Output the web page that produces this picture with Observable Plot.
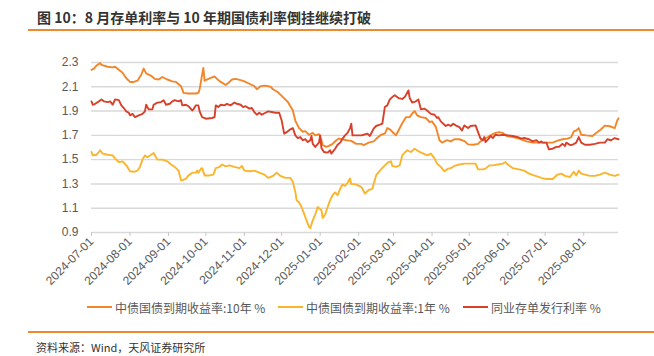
<!DOCTYPE html>
<html><head><meta charset="utf-8">
<script src="https://cdn.jsdelivr.net/npm/d3@7"></script>
<script src="https://cdn.jsdelivr.net/npm/@observablehq/plot@0.6"></script>
<style>
body{margin:0;background:#fff;width:654px;height:356px;position:relative;overflow:hidden;font-family:"Liberation Sans","Noto Sans CJK SC",sans-serif;}
#chart{position:absolute;left:0;top:0;}
#title{position:absolute;left:37px;top:8px;font-size:14px;font-weight:bold;color:#333;font-family:"Noto Sans CJK SC",sans-serif;line-height:18px;white-space:nowrap;}
.rule{position:absolute;left:28px;width:626px;height:2px;background:#f08a32;}
#legend{position:absolute;top:298px;left:0;width:654px;height:18px;font-size:12px;color:#595959;font-family:"Noto Sans CJK SC",sans-serif;}
.item{position:absolute;top:0;display:flex;align-items:center;height:18px;white-space:nowrap;}
.sw{width:25px;height:2.5px;margin-right:3px;}
#source{position:absolute;left:36px;top:339px;font-size:11px;color:#333;font-family:"Noto Sans CJK SC",sans-serif;white-space:nowrap;line-height:16px;}
</style></head><body>
<div id="chart"></div>
<div id="title">图 10：8 月存单利率与 10 年期国债利率倒挂继续打破</div>
<div class="rule" style="top:29px"></div>
<div id="legend"></div>
<div class="rule" style="top:331px"></div>
<div id="source">资料来源：Wind，天风证券研究所</div>
<script>
const seriesNames = ["中债国债到期收益率:10年 %", "中债国债到期收益率:1年 %", "同业存单发行利率 %"];
const seriesColors = ["#f4862a", "#fbb52c", "#d9402a"];
const yTicks = [0.9, 1.1, 1.3, 1.5, 1.7, 1.9, 2.1, 2.3];
const xTickLabels = ["2024-07-01","2024-08-01","2024-09-01","2024-10-01","2024-11-01","2024-12-01","2025-01-01","2025-02-01","2025-03-01","2025-04-01","2025-05-01","2025-06-01","2025-07-01","2025-08-01"];

const t10 = ["2024-07-01","2024-07-03","2024-07-05","2024-07-08","2024-07-09","2024-07-14","2024-07-18","2024-07-20","2024-07-23","2024-07-26","2024-07-29","2024-08-01","2024-08-04","2024-08-07","2024-08-10","2024-08-12","2024-08-14","2024-08-18","2024-08-21","2024-08-24","2024-08-27","2024-08-31","2024-09-04","2024-09-07","2024-09-11","2024-09-12","2024-09-13","2024-09-17","2024-09-23","2024-09-25","2024-09-26","2024-09-27","2024-09-29","2024-09-30","2024-10-04","2024-10-08","2024-10-10","2024-10-13","2024-10-17","2024-10-20","2024-10-22","2024-10-25","2024-10-29","2024-11-01","2024-11-05","2024-11-09","2024-11-11","2024-11-14","2024-11-18","2024-11-22","2024-11-24","2024-11-28","2024-12-02","2024-12-06","2024-12-08","2024-12-10","2024-12-12","2024-12-15","2024-12-18","2024-12-20","2024-12-23","2024-12-26","2024-12-28","2024-12-31","2025-01-02","2025-01-03","2025-01-06","2025-01-08","2025-01-11","2025-01-14","2025-01-16","2025-01-19","2025-01-22","2025-01-26","2025-01-30","2025-02-03","2025-02-05","2025-02-09","2025-02-13","2025-02-16","2025-02-19","2025-02-22","2025-02-24","2025-02-26","2025-02-28","2025-03-03","2025-03-05","2025-03-08","2025-03-11","2025-03-14","2025-03-16","2025-03-18","2025-03-20","2025-03-23","2025-03-27","2025-03-30","2025-04-01","2025-04-04","2025-04-07","2025-04-09","2025-04-13","2025-04-16","2025-04-19","2025-04-23","2025-04-27","2025-04-30","2025-05-04","2025-05-08","2025-05-10","2025-05-13","2025-05-16","2025-05-18","2025-05-22","2025-05-25","2025-05-28","2025-05-31","2025-06-05","2025-06-10","2025-06-16","2025-06-21","2025-06-28","2025-07-02","2025-07-07","2025-07-11","2025-07-15","2025-07-19","2025-07-22","2025-07-24","2025-07-26","2025-07-28","2025-07-30","2025-08-03","2025-08-08","2025-08-11","2025-08-15","2025-08-18","2025-08-22","2025-08-26","2025-08-28","2025-08-29"];
const v10 = [2.24,2.25,2.275,2.295,2.28,2.265,2.26,2.265,2.24,2.215,2.17,2.14,2.14,2.15,2.20,2.25,2.21,2.19,2.165,2.16,2.18,2.16,2.145,2.14,2.105,2.08,2.05,2.045,2.045,2.05,2.08,2.14,2.255,2.15,2.17,2.185,2.165,2.14,2.115,2.14,2.16,2.165,2.155,2.145,2.125,2.105,2.08,2.105,2.11,2.10,2.08,2.055,2.015,1.975,1.94,1.905,1.82,1.76,1.73,1.735,1.705,1.72,1.70,1.71,1.66,1.62,1.605,1.613,1.63,1.66,1.673,1.668,1.66,1.655,1.63,1.63,1.62,1.64,1.65,1.68,1.705,1.714,1.76,1.75,1.73,1.70,1.74,1.80,1.85,1.85,1.88,1.90,1.865,1.85,1.843,1.81,1.815,1.77,1.66,1.64,1.66,1.65,1.668,1.668,1.653,1.626,1.623,1.63,1.65,1.673,1.686,1.70,1.72,1.727,1.72,1.695,1.686,1.673,1.65,1.64,1.64,1.64,1.64,1.656,1.668,1.673,1.686,1.733,1.74,1.76,1.705,1.70,1.695,1.72,1.75,1.78,1.775,1.76,1.823,1.84];

const t1 = ["2024-07-01","2024-07-02","2024-07-05","2024-07-08","2024-07-10","2024-07-14","2024-07-18","2024-07-20","2024-07-23","2024-07-26","2024-07-29","2024-08-01","2024-08-04","2024-08-07","2024-08-09","2024-08-11","2024-08-13","2024-08-15","2024-08-18","2024-08-20","2024-08-23","2024-08-27","2024-08-31","2024-09-03","2024-09-06","2024-09-09","2024-09-11","2024-09-12","2024-09-15","2024-09-17","2024-09-20","2024-09-23","2024-09-24","2024-09-25","2024-09-27","2024-09-28","2024-09-30","2024-10-04","2024-10-07","2024-10-09","2024-10-12","2024-10-14","2024-10-17","2024-10-20","2024-10-24","2024-10-28","2024-10-30","2024-11-01","2024-11-05","2024-11-09","2024-11-13","2024-11-17","2024-11-20","2024-11-22","2024-11-24","2024-11-27","2024-11-30","2024-12-04","2024-12-08","2024-12-10","2024-12-12","2024-12-13","2024-12-15","2024-12-17","2024-12-19","2024-12-21","2024-12-23","2024-12-24","2024-12-26","2024-12-28","2024-12-30","2025-01-02","2025-01-03","2025-01-05","2025-01-07","2025-01-09","2025-01-11","2025-01-13","2025-01-15","2025-01-17","2025-01-19","2025-01-21","2025-01-23","2025-01-25","2025-01-26","2025-01-30","2025-02-03","2025-02-04","2025-02-06","2025-02-09","2025-02-12","2025-02-13","2025-02-15","2025-02-18","2025-02-22","2025-02-25","2025-02-27","2025-02-28","2025-03-03","2025-03-06","2025-03-08","2025-03-10","2025-03-12","2025-03-15","2025-03-18","2025-03-22","2025-03-25","2025-03-28","2025-03-31","2025-04-03","2025-04-05","2025-04-08","2025-04-11","2025-04-14","2025-04-16","2025-04-19","2025-04-23","2025-04-27","2025-05-01","2025-05-06","2025-05-08","2025-05-12","2025-05-14","2025-05-17","2025-05-20","2025-05-24","2025-05-28","2025-05-30","2025-06-01","2025-06-05","2025-06-10","2025-06-14","2025-06-18","2025-06-22","2025-06-28","2025-07-02","2025-07-07","2025-07-11","2025-07-14","2025-07-17","2025-07-21","2025-07-24","2025-07-26","2025-07-28","2025-07-30","2025-08-02","2025-08-06","2025-08-10","2025-08-14","2025-08-18","2025-08-22","2025-08-26","2025-08-29"];
const v1 = [1.563,1.535,1.54,1.577,1.55,1.54,1.535,1.508,1.48,1.486,1.453,1.404,1.40,1.41,1.44,1.50,1.535,1.52,1.54,1.555,1.50,1.50,1.486,1.46,1.44,1.41,1.33,1.33,1.343,1.37,1.393,1.393,1.41,1.393,1.426,1.43,1.37,1.37,1.377,1.43,1.44,1.46,1.445,1.453,1.44,1.43,1.448,1.41,1.404,1.41,1.393,1.377,1.35,1.357,1.366,1.393,1.366,1.35,1.35,1.316,1.234,1.166,1.147,1.11,1.056,1.00,0.947,0.935,1.00,1.048,1.11,1.084,1.02,1.048,1.11,1.166,1.207,1.23,1.207,1.26,1.295,1.284,1.31,1.344,1.30,1.295,1.275,1.26,1.22,1.25,1.26,1.30,1.37,1.41,1.453,1.48,1.486,1.448,1.44,1.453,1.535,1.558,1.577,1.563,1.59,1.563,1.55,1.535,1.55,1.51,1.467,1.44,1.404,1.426,1.43,1.448,1.46,1.467,1.467,1.467,1.42,1.42,1.426,1.453,1.453,1.46,1.467,1.48,1.46,1.43,1.42,1.41,1.385,1.37,1.35,1.34,1.34,1.377,1.385,1.366,1.357,1.40,1.37,1.41,1.385,1.377,1.366,1.366,1.377,1.393,1.377,1.366,1.377];

const tcd = ["2024-07-01","2024-07-02","2024-07-04","2024-07-07","2024-07-09","2024-07-11","2024-07-14","2024-07-16","2024-07-18","2024-07-20","2024-07-23","2024-07-25","2024-07-27","2024-07-29","2024-07-31","2024-08-01","2024-08-03","2024-08-05","2024-08-08","2024-08-11","2024-08-13","2024-08-14","2024-08-16","2024-08-19","2024-08-20","2024-08-23","2024-08-26","2024-08-28","2024-08-30","2024-09-02","2024-09-04","2024-09-06","2024-09-09","2024-09-11","2024-09-12","2024-09-15","2024-09-17","2024-09-20","2024-09-21","2024-09-23","2024-09-25","2024-09-26","2024-09-28","2024-10-01","2024-10-06","2024-10-08","2024-10-09","2024-10-11","2024-10-13","2024-10-16","2024-10-18","2024-10-21","2024-10-24","2024-10-26","2024-10-29","2024-10-31","2024-11-02","2024-11-05","2024-11-07","2024-11-09","2024-11-11","2024-11-13","2024-11-15","2024-11-18","2024-11-20","2024-11-23","2024-11-26","2024-11-29","2024-12-01","2024-12-03","2024-12-06","2024-12-08","2024-12-10","2024-12-12","2024-12-14","2024-12-16","2024-12-18","2024-12-20","2024-12-22","2024-12-24","2024-12-25","2024-12-26","2024-12-28","2024-12-31","2025-01-01","2025-01-02","2025-01-04","2025-01-07","2025-01-09","2025-01-10","2025-01-13","2025-01-15","2025-01-17","2025-01-19","2025-01-21","2025-01-23","2025-01-25","2025-01-26","2025-01-27","2025-01-30","2025-02-03","2025-02-05","2025-02-08","2025-02-10","2025-02-13","2025-02-15","2025-02-18","2025-02-20","2025-02-22","2025-02-24","2025-02-26","2025-02-28","2025-03-02","2025-03-05","2025-03-08","2025-03-10","2025-03-13","2025-03-14","2025-03-16","2025-03-19","2025-03-21","2025-03-23","2025-03-26","2025-03-28","2025-03-31","2025-04-03","2025-04-05","2025-04-06","2025-04-08","2025-04-12","2025-04-14","2025-04-16","2025-04-18","2025-04-20","2025-04-23","2025-04-25","2025-04-27","2025-04-30","2025-05-02","2025-05-06","2025-05-08","2025-05-10","2025-05-12","2025-05-13","2025-05-14","2025-05-17","2025-05-18","2025-05-20","2025-05-22","2025-05-25","2025-05-28","2025-06-01","2025-06-05","2025-06-09","2025-06-12","2025-06-14","2025-06-18","2025-06-21","2025-06-24","2025-06-26","2025-06-28","2025-06-29","2025-07-02","2025-07-04","2025-07-07","2025-07-10","2025-07-12","2025-07-15","2025-07-17","2025-07-18","2025-07-21","2025-07-23","2025-07-26","2025-07-28","2025-07-30","2025-08-02","2025-08-06","2025-08-10","2025-08-14","2025-08-18","2025-08-20","2025-08-23","2025-08-26","2025-08-29"];
const vcd = [1.98,1.952,1.96,1.98,1.996,1.98,1.974,1.98,1.952,1.996,1.99,1.947,1.925,1.897,1.886,1.865,1.877,1.85,1.865,1.877,1.897,1.952,1.914,1.914,1.952,1.97,1.974,1.99,1.952,1.96,1.98,1.99,1.98,1.99,1.947,1.952,1.94,1.905,1.914,1.947,1.947,1.897,1.85,1.837,1.843,1.85,1.947,1.933,1.952,1.947,1.96,1.947,1.97,1.96,1.952,1.933,1.94,1.92,1.925,1.892,1.87,1.886,1.87,1.886,1.897,1.892,1.886,1.886,1.823,1.714,1.733,1.75,1.76,1.70,1.678,1.686,1.66,1.668,1.645,1.66,1.695,1.63,1.605,1.64,1.70,1.596,1.563,1.558,1.577,1.55,1.59,1.623,1.64,1.673,1.70,1.72,1.76,1.796,1.70,1.70,1.70,1.705,1.714,1.695,1.755,1.777,1.788,1.796,1.933,1.947,1.996,2.015,2.03,2.007,2.00,2.015,2.07,2.007,1.97,1.98,1.996,1.914,1.92,1.905,1.877,1.87,1.843,1.85,1.815,1.777,1.788,1.777,1.796,1.782,1.768,1.74,1.782,1.76,1.777,1.782,1.727,1.673,1.66,1.686,1.645,1.678,1.695,1.678,1.705,1.70,1.705,1.70,1.695,1.686,1.673,1.678,1.668,1.65,1.66,1.64,1.65,1.64,1.64,1.585,1.59,1.605,1.605,1.63,1.613,1.64,1.62,1.623,1.64,1.686,1.64,1.623,1.623,1.63,1.64,1.64,1.668,1.66,1.678,1.668];

const parse = d3.utcParse("%Y-%m-%d");
const rows = [];
[[t10, v10], [t1, v1], [tcd, vcd]].forEach(([ts, vs], i) => {
  ts.forEach((t, j) => rows.push({date: parse(t), value: vs[j], series: seriesNames[i]}));
});

const chart = Plot.plot({
  width: 654,
  height: 300,
  marginLeft: 91,
  marginRight: 36,
  marginTop: 62,
  marginBottom: 68,
  style: {fontFamily: "'Liberation Sans', Arial, sans-serif", fontSize: "12px", color: "#595959", background: "transparent"},
  x: {type: "utc", domain: [parse("2024-07-01"), parse("2025-08-29")]},
  y: {domain: [0.9, 2.3]},
  color: {domain: seriesNames, range: seriesColors},
  marks: [
    Plot.ruleY(yTicks, {stroke: "#d9d9d9", strokeWidth: 1.4}),
    Plot.axisY({ticks: yTicks, tickSize: 0, tickPadding: 13, tickFormat: d => d.toFixed(1), label: null, fontSize: 12}),
    Plot.axisX({ticks: xTickLabels.map(parse), tickSize: 4, tickPadding: 3, tickRotate: -45, tickFormat: d3.utcFormat("%Y-%m-%d"), label: null, stroke: "#c8c8c8", fontSize: 12}),
    Plot.lineY(rows, {x: "date", y: "value", z: "series", stroke: "series", strokeWidth: 1.9, curve: "linear"})
  ]
});
document.getElementById("chart").appendChild(chart);

const legend = document.getElementById("legend");
const lefts = [87, 278, 463];
seriesNames.forEach((n, i) => {
  const it = document.createElement("div");
  it.className = "item";
  it.style.left = lefts[i] + "px";
  it.innerHTML = `<span class="sw" style="background:${seriesColors[i]}"></span><span>${n}</span>`;
  legend.appendChild(it);
});
</script>
</body></html>
